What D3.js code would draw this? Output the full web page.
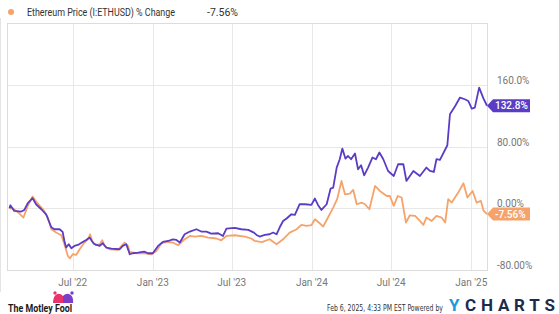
<!DOCTYPE html>
<html>
<head>
<meta charset="utf-8">
<script src="https://cdn.jsdelivr.net/npm/d3@7"></script>
<style>
    body { margin: 0; background: #fff; }
    svg { font-family: Roboto, "Noto Sans", sans-serif; display: block; }
    .narrow { font-family: "Liberation Sans Narrow", "DejaVu Sans Condensed", Roboto, sans-serif; }
</style>
</head>
<body>
<div id="wrapper"></div>
<script>
// Bitcoin (purple) % change since Feb 6 2022
const btcDates = ["2022-02-06","2022-02-08","2022-02-17","2022-03-05","2022-03-12","2022-03-20","2022-03-31","2022-04-08","2022-04-20","2022-05-01","2022-05-13","2022-05-20","2022-06-01","2022-06-08","2022-06-12","2022-06-16","2022-06-22","2022-06-28","2022-07-05","2022-07-13","2022-07-24","2022-08-01","2022-08-09","2022-08-14","2022-08-20","2022-09-01","2022-09-08","2022-09-16","2022-09-28","2022-10-17","2022-10-24","2022-11-01","2022-11-09","2022-11-16","2022-11-28","2022-12-12","2022-12-21","2023-01-01","2023-01-13","2023-01-24","2023-02-05","2023-02-16","2023-02-24","2023-03-04","2023-03-15","2023-03-27","2023-04-11","2023-04-22","2023-05-04","2023-05-15","2023-05-31","2023-06-11","2023-06-19","2023-07-08","2023-07-23","2023-08-08","2023-08-21","2023-08-27","2023-09-03","2023-09-15","2023-09-26","2023-10-04","2023-10-12","2023-10-19","2023-10-27","2023-11-04","2023-11-15","2023-11-23","2023-12-04","2023-12-16","2023-12-31","2024-01-08","2024-01-15","2024-01-23","2024-02-04","2024-02-13","2024-02-19","2024-02-27","2024-03-05","2024-03-11","2024-03-18","2024-03-24","2024-03-31","2024-04-09","2024-04-16","2024-04-23","2024-04-30","2024-05-09","2024-05-19","2024-05-27","2024-06-04","2024-06-13","2024-06-24","2024-07-07","2024-07-17","2024-07-29","2024-08-05","2024-08-21","2024-09-05","2024-09-20","2024-09-28","2024-10-07","2024-10-13","2024-10-21","2024-11-07","2024-11-13","2024-11-25","2024-12-06","2024-12-17","2024-12-25","2025-01-02","2025-01-09","2025-01-19","2025-01-29","2025-02-06"]
const btcValues = [0,3.9,-3.5,-4.3,-2.2,6.5,13,5.2,-1.3,-7.8,-24.6,-27.2,-27.2,-30.7,-42.4,-50.9,-46.6,-51.8,-48.8,-47.5,-43.7,-41.1,-38,-42.4,-46.6,-48.8,-45.3,-50.9,-52.2,-53.1,-48.8,-46.6,-59.6,-58.3,-57.4,-56.1,-58.3,-58.3,-48.8,-43.7,-42.4,-40.2,-41.1,-44.4,-33.7,-30.2,-27.2,-30.2,-30.2,-32.8,-32.4,-35.9,-26.3,-25.5,-27.2,-28.1,-31.5,-34.6,-36.7,-34.6,-33.7,-31.5,-33.7,-25,-16.5,-13.3,-7.8,-8.7,5.2,5.2,4.3,12.6,4.3,-2.2,5.2,25.5,26.8,52.7,63.5,77.3,64.4,67.7,63.5,70.9,50.5,55.7,42.7,52.7,65.7,63.5,72.2,63.5,48.3,41.8,57,57,35.4,48.3,41.8,52.7,48.3,47,63.5,62.6,81.6,121.8,132.5,143.4,141.2,139,129.1,130.4,156.3,142.1,132.8]

// Ethereum (orange) % change since Feb 6 2022
const ethDates = ["2022-02-06","2022-02-14","2022-03-01","2022-03-10","2022-03-20","2022-03-31","2022-04-11","2022-04-24","2022-05-05","2022-05-13","2022-05-24","2022-06-05","2022-06-12","2022-06-20","2022-06-25","2022-07-01","2022-07-09","2022-07-17","2022-07-28","2022-08-05","2022-08-10","2022-08-16","2022-08-24","2022-09-01","2022-09-07","2022-09-12","2022-09-24","2022-10-13","2022-10-28","2022-11-05","2022-11-09","2022-11-24","2022-12-13","2022-12-29","2023-01-09","2023-01-21","2023-02-05","2023-02-16","2023-02-28","2023-03-15","2023-03-27","2023-04-07","2023-04-22","2023-05-08","2023-05-27","2023-06-07","2023-06-19","2023-07-08","2023-07-31","2023-08-15","2023-08-23","2023-09-08","2023-09-26","2023-10-12","2023-10-27","2023-11-11","2023-11-27","2023-12-08","2023-12-20","2023-12-31","2024-01-08","2024-01-19","2024-01-27","2024-02-07","2024-02-19","2024-02-28","2024-03-09","2024-03-17","2024-03-28","2024-04-05","2024-04-13","2024-04-24","2024-05-02","2024-05-12","2024-05-25","2024-06-05","2024-06-21","2024-06-28","2024-07-07","2024-07-16","2024-07-25","2024-08-04","2024-08-13","2024-08-25","2024-09-05","2024-09-13","2024-09-20","2024-10-02","2024-10-13","2024-10-25","2024-11-02","2024-11-09","2024-11-17","2024-12-02","2024-12-14","2024-12-23","2025-01-04","2025-01-13","2025-01-23","2025-01-29","2025-02-06"]
const ethValues = [0,-0.4,-6.9,-12,3,15.2,6.5,-1.3,-12,-27.2,-31.5,-35,-46.6,-61.8,-64.8,-59.6,-60.5,-53.1,-44.4,-40.2,-33.7,-44.4,-47.9,-46.6,-41.5,-48.8,-53.1,-54,-44.4,-48.8,-56.6,-58.3,-58.3,-59.6,-55.3,-45.3,-43.7,-44.4,-47.9,-40.2,-35.9,-36.7,-35.9,-38,-39.2,-41.5,-35.9,-35,-36.7,-39.2,-42.4,-44,-40.2,-46.6,-40.2,-31.5,-27.2,-21.6,-22.9,-22,-14.2,-19.4,-23.7,-12,0.9,11.7,35.4,18.1,19,23.7,5.2,7.4,5.2,-1.3,28.9,22.4,15.9,15.9,3,15.9,13.9,-18.5,-9.1,-10,-16.5,-21.6,-12,-16.5,-10,-12,-18.5,11.7,7.4,20.3,32.4,13.9,22.4,7.4,9.5,-3,-7.56]

const yTicks = [-80, 0, 80, 160]
const yTickLabels = ["-80.00%", "0.00%", "80.00%", "160.0%"]
const xTickDates = ["2022-07-01", "2023-01-01", "2023-07-01", "2024-01-01", "2024-07-01", "2025-01-01"]
const xTickLabels = ["Jul '22", "Jan '23", "Jul '23", "Jan '24", "Jul '24", "Jan '25"]
const lastLabels = ["132.8%", "-7.56%"]
const legendName = "Ethereum Price (I:ETHUSD) % Change"
const legendValue = "-7.56%"

const purple = "#5b3cc4"
const orange = "#f6a36b"

const parseDate = d3.timeParse("%Y-%m-%d")

const width = 559
const height = 314
const plot = { left: 8, right: 487, top: 23, bottom: 270 }

const wrapper = d3.select("#wrapper")
    .append("svg")
    .attr("width", width)
    .attr("height", height)

const xScale = d3.scaleTime()
    .domain([parseDate("2022-02-06"), parseDate("2025-02-06")])
    .range([9.5, plot.right])

const yScale = d3.scaleLinear()
    .domain([-80, 240])
    .range([plot.bottom, plot.top])

// faint card edge on the left
wrapper.append("line")
    .attr("x1", 0.5).attr("x2", 0.5)
    .attr("y1", 18).attr("y2", 292)
    .attr("stroke", "#e4e4e4")

// legend
wrapper.append("circle")
    .attr("cx", 11).attr("cy", 12).attr("r", 3)
    .attr("fill", orange)
wrapper.append("text")
    .attr("x", 27).attr("y", 16)
    .attr("font-size", 10.5)
    .attr("fill", "#333")
    .attr("textLength", 148)
    .attr("lengthAdjust", "spacingAndGlyphs")
    .text(legendName)
wrapper.append("text")
    .attr("x", 207).attr("y", 16)
    .attr("font-size", 10.5)
    .attr("fill", "#333")
    .text(legendValue)

// grid
const grid = wrapper.append("g")
grid.selectAll(".hgrid")
    .data(yTicks)
    .join("line")
    .attr("x1", plot.left).attr("x2", plot.right)
    .attr("y1", d => Math.round(yScale(d)) + 0.5)
    .attr("y2", d => Math.round(yScale(d)) + 0.5)
    .attr("stroke", "#e8e8e8")
grid.selectAll(".vgrid")
    .data(xTickDates)
    .join("line")
    .attr("x1", d => Math.round(xScale(parseDate(d))) + 0.5)
    .attr("x2", d => Math.round(xScale(parseDate(d))) + 0.5)
    .attr("y1", plot.top).attr("y2", plot.bottom)
    .attr("stroke", "#e8e8e8")
wrapper.append("rect")
    .attr("x", plot.left - 0.5).attr("y", plot.top + 0.5)
    .attr("width", plot.right - plot.left + 1)
    .attr("height", plot.bottom - plot.top)
    .attr("fill", "none")
    .attr("stroke", "#dcdcdc")

// axis labels
wrapper.append("g").selectAll("text")
    .data(yTicks)
    .join("text")
    .attr("x", 497)
    .attr("y", d => yScale(d) - 1)
    .attr("font-size", 10)
    .attr("fill", "#777")
    .text((d, i) => yTickLabels[i])

wrapper.append("g").selectAll("text")
    .data(xTickDates)
    .join("text")
    .attr("x", d => xScale(parseDate(d)))
    .attr("y", 286)
    .attr("font-size", 10)
    .attr("fill", "#777")
    .attr("text-anchor", "middle")
    .text((d, i) => xTickLabels[i])

// lines
const lineGenerator = d3.line()
    .x(d => xScale(d.date))
    .y(d => yScale(d.value))

const btc = btcDates.map((d, i) => ({ date: parseDate(d), value: btcValues[i] }))
const eth = ethDates.map((d, i) => ({ date: parseDate(d), value: ethValues[i] }))

const series = [
    { data: eth, color: orange, label: lastLabels[1] },
    { data: btc, color: purple, label: lastLabels[0] }
]

wrapper.append("g").selectAll("path")
    .data(series)
    .join("path")
    .attr("d", d => lineGenerator(d.data))
    .attr("fill", "none")
    .attr("stroke", d => d.color)
    .attr("stroke-width", 1.8)
    .attr("stroke-linejoin", "round")

// last value flags
const flags = wrapper.append("g").selectAll("g")
    .data(series)
    .join("g")
    .attr("transform", d => {
        const last = d.data[d.data.length - 1]
        return `translate(${xScale(last.date)}, ${yScale(last.value)})`
    })
flags.append("path")
    .attr("d", "M0,0 L6,-6.5 L43,-6.5 L43,6.5 L6,6.5 Z")
    .attr("fill", d => d.color)
flags.append("text")
    .attr("x", 8).attr("y", 3.6)
    .attr("font-size", 10)
    .attr("font-weight", 500)
    .attr("fill", "#fff")
    .text(d => d.label)

// footer
const fool = wrapper.append("g")
fool.append("text")
    .attr("x", 8).attr("y", 312)
    .attr("font-size", 10.5)
    .attr("font-weight", 700)
    .attr("fill", "#1a1a1a")
    .attr("textLength", 64)
    .attr("lengthAdjust", "spacingAndGlyphs")
    .text("The Motley Fool")
// jester hat
fool.append("path")
    .attr("d", "M53,303 C53,295 58,291 63,296 L63,303 Z")
    .attr("fill", "#e8336d")
fool.append("path")
    .attr("d", "M63,303 L63,296 C68,291 74,295 73,303 Z")
    .attr("fill", "#7b3fc7")
fool.append("circle").attr("cx", 55).attr("cy", 293).attr("r", 1.7).attr("fill", "#e8336d")
fool.append("circle").attr("cx", 72).attr("cy", 293).attr("r", 1.7).attr("fill", "#7b3fc7")

wrapper.append("text")
    .attr("class", "narrow")
    .attr("x", 327).attr("y", 311)
    .attr("font-size", 9)
    .attr("fill", "#333")
    .attr("textLength", 116)
    .attr("lengthAdjust", "spacingAndGlyphs")
    .text("Feb 6, 2025, 4:33 PM EST Powered by")

wrapper.append("text")
    .attr("x", 449).attr("y", 311)
    .attr("font-size", 17)
    .attr("font-weight", 700)
    .attr("fill", "#1f9ad8")
    .text("Y")
wrapper.append("text")
    .attr("x", 465).attr("y", 311)
    .attr("font-size", 17)
    .attr("font-weight", 700)
    .attr("fill", "#1c2b4d")
    .attr("textLength", 90)
    .attr("lengthAdjust", "spacing")
    .text("CHARTS")
</script>
</body>
</html>
